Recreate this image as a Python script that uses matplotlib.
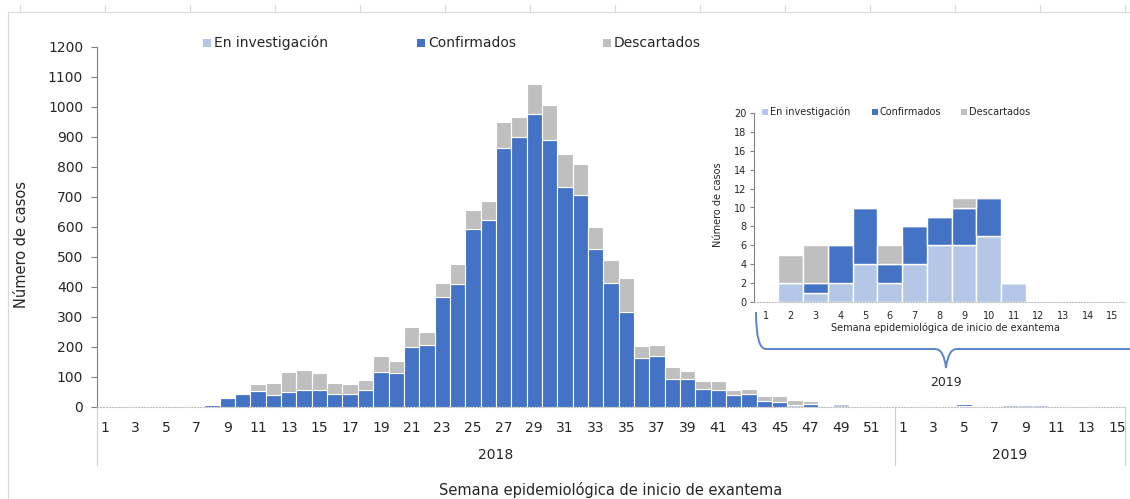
import numpy as np
import matplotlib
matplotlib.use("Agg")
import matplotlib.pyplot as plt
from matplotlib.patches import Rectangle, PathPatch
from matplotlib.path import Path
from matplotlib.lines import Line2D

# weekly cases, 2018 (weeks 1-52)
conf_2018 = [0, 0, 0, 0, 0, 0, 0, 8, 31, 44,
             53, 40, 49, 58, 58, 44, 44, 58, 117, 112,
             199, 208, 368, 409, 592, 623, 862, 899, 977, 890,
             734, 707, 528, 414, 318, 163, 171, 92, 92, 61,
             57, 39, 43, 20, 16, 0, 11, 0, 0, 0, 0, 0]
desc_2018 = [0, 0, 0, 0, 0, 0, 0, 0, 0, 0,
             23, 40, 68, 64, 54, 36, 32, 32, 54, 41,
             68, 41, 44, 68, 64, 65, 87, 67, 99, 118,
             108, 104, 72, 76, 113, 39, 36, 42, 27, 27,
             31, 17, 17, 18, 22, 15, 8, 0, 4, 0, 0, 5]
inv_2018 = [0, 0, 0, 0, 0, 3, 0, 0, 0, 0,
            0, 0, 0, 0, 0, 0, 0, 0, 0, 0,
            0, 0, 0, 0, 0, 0, 0, 0, 0, 0,
            0, 0, 0, 0, 0, 0, 0, 0, 0, 0,
            0, 0, 0, 0, 0, 8, 0, 4, 10, 4, 2, 0]

# weekly cases, 2019 (weeks 1-15)
inv_2019 = [0, 2, 1, 2, 4, 2, 4, 6, 6, 7, 2, 0, 0, 0, 0]
conf_2019 = [0, 0, 1, 4, 6, 2, 4, 3, 4, 4, 0, 0, 0, 0, 0]
desc_2019 = [0, 3, 4, 0, 0, 2, 0, 0, 1, 0, 0, 0, 0, 0, 0]

weeks_2018 = list(range(1, 53))
weeks_2019 = list(range(1, 16))
years = ["2018", "2019"]
legend_labels = ["En investigación", "Confirmados", "Descartados"]

c_inv = "#B4C7E7"
c_conf = "#4472C4"
c_desc = "#BFBFBF"
txt = "#262626"

W, H = 1130, 499
def fx(px):
    return px / W
def fy(py):
    return 1 - py / H

fig = plt.figure(figsize=(W / 100, H / 100), dpi=100)

# faint sheet frame
fig.add_artist(Line2D([fx(8), fx(8)], [fy(12), 0], transform=fig.transFigure, color="#D9D9D9", lw=0.8))
fig.add_artist(Line2D([fx(8), 1], [fy(12), fy(12)], transform=fig.transFigure, color="#D9D9D9", lw=0.8))
for px in range(20, W, 85):
    fig.add_artist(Line2D([fx(px), fx(px)], [fy(5), fy(12)], transform=fig.transFigure, color="#D9D9D9", lw=0.8))

# ---- main chart ----
ax = fig.add_axes([fx(97), fy(407), fx(1125) - fx(97), fy(47) - fy(407)])
inv = np.array(inv_2018 + inv_2019)
conf = np.array(conf_2018 + conf_2019)
desc = np.array(desc_2018 + desc_2019)
x = np.arange(len(inv))
ax.bar(x, inv, width=1.0, color=c_inv, edgecolor="white", linewidth=0.8)
ax.bar(x, conf, width=1.0, bottom=inv, color=c_conf, edgecolor="white", linewidth=0.8)
ax.bar(x, desc, width=1.0, bottom=inv + conf, color=c_desc, edgecolor="white", linewidth=0.8)

ax.set_xlim(-0.5, len(x) - 0.5)
ax.set_ylim(0, 1200)
ax.set_yticks(np.arange(0, 1201, 100))
ax.tick_params(axis="y", length=4, color="#808080", pad=6, labelsize=10, labelcolor=txt)

all_weeks = weeks_2018 + weeks_2019
tick_idx = [i for i, w in enumerate(all_weeks) if w % 2 == 1]
ax.set_xticks(tick_idx)
ax.set_xticklabels([str(all_weeks[i]) for i in tick_idx])
ax.tick_params(axis="x", length=0, pad=10, labelsize=10, labelcolor=txt)

for s in ["top", "right"]:
    ax.spines[s].set_visible(False)
ax.spines["left"].set_color("#808080")
ax.spines["bottom"].set_color("#BFBFBF")
ax.spines["bottom"].set_linestyle(":")

# year groups under the week axis
sep_y = -(465 - 407) / 360
n18 = len(weeks_2018)
for xs in [-0.5, n18 - 0.5, len(x) - 0.5]:
    ax.plot([xs, xs], [0, sep_y], transform=ax.get_xaxis_transform(), color="#D0D0D0", lw=0.8, clip_on=False)
ax.text((n18 - 1) / 2, -(455 - 407) / 360, years[0], transform=ax.get_xaxis_transform(),
        ha="center", va="center", fontsize=10, color=txt)
ax.text(n18 + (len(weeks_2019) - 1) / 2, -(455 - 407) / 360, years[1], transform=ax.get_xaxis_transform(),
        ha="center", va="center", fontsize=10, color=txt)

fig.text(fx(611), fy(490), "Semana epidemiológica de inicio de exantema", ha="center", va="center",
         fontsize=10.5, color=txt)
fig.text(fx(22), fy(245), "Número de casos", rotation=90, ha="center", va="center", fontsize=10.5, color=txt)

# main legend
for lab, col, mx in zip(legend_labels, [c_inv, c_conf, c_desc], [207, 421, 607]):
    fig.add_artist(Rectangle((fx(mx - 4), fy(47)), 8 / W, 8 / H, transform=fig.transFigure,
                             facecolor=col, edgecolor="none"))
    fig.text(fx(mx + 7), fy(43), lab, ha="left", va="center", fontsize=10, color=txt)

# ---- inset, 2019 ----
ia = fig.add_axes([fx(753.6), fy(302.3), fx(1125) - fx(753.6), fy(112.7) - fy(302.3)])
ia.set_facecolor("none")
xi = np.array(weeks_2019)
i_inv = np.array(inv_2019)
i_conf = np.array(conf_2019)
i_desc = np.array(desc_2019)
ia.bar(xi, i_inv, width=1.0, color=c_inv, edgecolor="white", linewidth=1)
ia.bar(xi, i_conf, width=1.0, bottom=i_inv, color=c_conf, edgecolor="white", linewidth=1)
ia.bar(xi, i_desc, width=1.0, bottom=i_inv + i_conf, color=c_desc, edgecolor="white", linewidth=1)
ia.set_xlim(0.5, 15.5)
ia.set_ylim(0, 20)
ia.set_xticks(xi)
ia.set_yticks(np.arange(0, 21, 2))
ia.tick_params(axis="x", length=0, pad=6, labelsize=7, labelcolor=txt)
ia.tick_params(axis="y", length=3, color="#808080", pad=2, labelsize=7, labelcolor=txt)
for s in ["top", "right"]:
    ia.spines[s].set_visible(False)
ia.spines["left"].set_color("#808080")
ia.spines["bottom"].set_color("#BFBFBF")
ia.spines["bottom"].set_linestyle(":")
fig.text(fx(945), fy(328), "Semana epidemiológica de inicio de exantema", ha="center", va="center",
         fontsize=7, color=txt)
fig.text(fx(718), fy(205), "Número de casos", rotation=90, ha="center", va="center", fontsize=7, color=txt)

for lab, col, mx in zip(legend_labels, [c_inv, c_conf, c_desc], [765, 875, 964]):
    fig.add_artist(Rectangle((fx(mx - 3), fy(115)), 6 / W, 6 / H, transform=fig.transFigure,
                             facecolor=col, edgecolor="none"))
    fig.text(fx(mx + 5), fy(112), lab, ha="left", va="center", fontsize=7, color=txt)

# brace under the inset
pts = [(756, 312), (756, 349), (766, 349),
       (935, 349), (944, 349), (946, 368), (948, 349), (957, 349),
       (1132, 349)]
codes = [Path.MOVETO, Path.CURVE3, Path.CURVE3,
         Path.LINETO, Path.CURVE3, Path.CURVE3, Path.CURVE3, Path.CURVE3,
         Path.LINETO]
brace = Path([(fx(a), fy(b)) for a, b in pts], codes)
fig.add_artist(PathPatch(brace, transform=fig.transFigure, facecolor="none", edgecolor="#5B84CF", lw=1.4))
fig.text(fx(946), fy(383), years[1], ha="center", va="center", fontsize=9, color=txt)

fig.savefig("out.png", dpi=100)
